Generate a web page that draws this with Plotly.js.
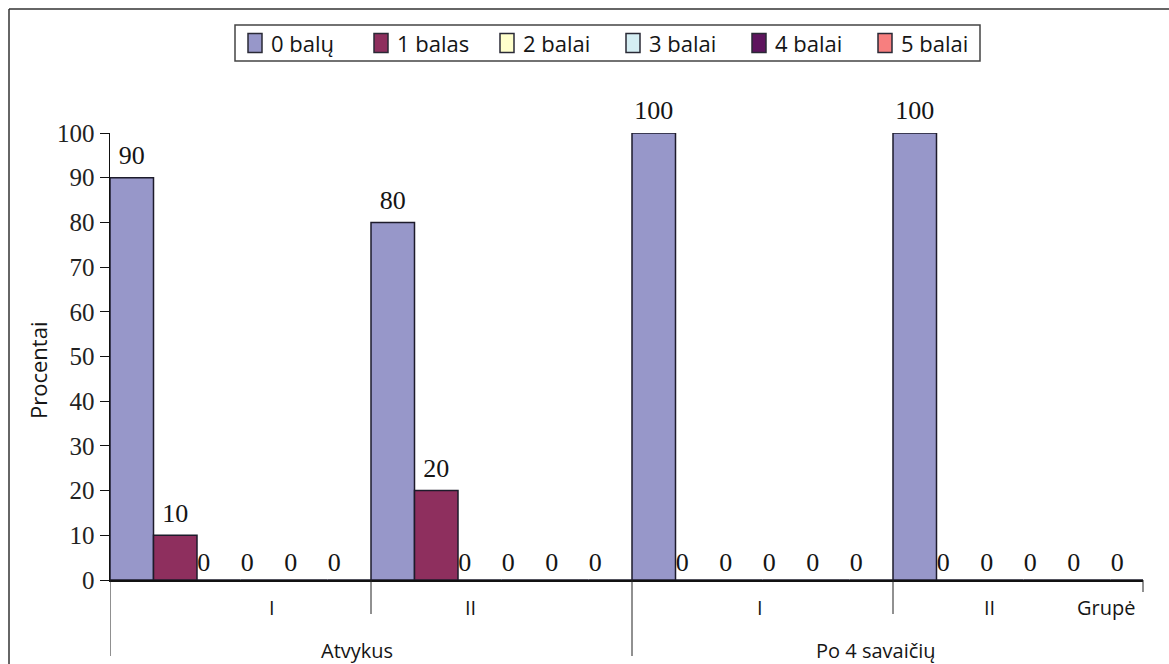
<!DOCTYPE html>
<html>
<head>
<meta charset="utf-8">
<script src="https://cdn.plot.ly/plotly-3.0.1.min.js"></script>
<style>html,body{margin:0;padding:0;background:#fff;}</style>
</head>
<body>
<div id="chart" style="width:1169px;height:664px;"></div>
<script>
// Stages and patient groups along the category axis
const stages = ['Atvykus', 'Po 4 savaičių'];
const stageOfGroup = [0, 0, 1, 1];
const groups = ['I', 'II', 'I', 'II'];
const axisName = 'Grupė';
const yTitle = 'Procentai';

// Share of patients (%) per score
const seriesNames = ['0 balų', '1 balas', '2 balai', '3 balai', '4 balai', '5 balai'];
const bal0 = [90, 80, 100, 100];
const bal1 = [10, 20, 0, 0];
const bal2 = [0, 0, 0, 0];
const bal3 = [0, 0, 0, 0];
const bal4 = [0, 0, 0, 0];
const bal5 = [0, 0, 0, 0];
const yTicks = [0, 10, 20, 30, 40, 50, 60, 70, 80, 90, 100];

const seriesValues = [bal0, bal1, bal2, bal3, bal4, bal5];
const colors = ['#9797C9', '#8E2F5E', '#FFFFCC', '#D5EEF3', '#5E145E', '#F77F7F'];

// Figure geometry
const W = 1169, H = 664;
const M = {l: 110, r: 26, t: 133, b: 84};
const plotW = W - M.l - M.r, plotH = H - M.t - M.b;
const groupPx = 261;
const xMin = -0.5, xMax = xMin + plotW / groupPx;
const px2x = px => (px - M.l) / plotW;          // pixel -> paper x
const py2y = py => (H - M.b - py) / plotH;      // pixel -> paper y

const nSeries = seriesValues.length;
const groupIdx = groups.map((_, i) => i);
const slot = k => (k - (nSeries - 1) / 2) / nSeries;   // bar centre offset within a group
const zeroShift = -15 / groupPx;                        // zero labels sit a little left

const serif = 'Liberation Serif, Times New Roman, serif';
const sansFont = 'Open Sans, Noto Sans, sans-serif';
const ink = '#151515';

const barTraces = seriesValues.map((vals, k) => ({
  type: 'bar',
  name: seriesNames[k],
  x: groupIdx,
  y: vals,
  marker: {color: colors[k], line: {color: '#1d1b2b', width: 1.5}},
  showlegend: false,
  hoverinfo: 'none'
}));

// value labels above each bar (an invisible marker sets the gap to the bar top)
const labelTraces = seriesValues.map((vals, k) => ({
  type: 'scatter',
  mode: 'markers+text',
  x: groupIdx.map((g, i) => g + slot(k) + (vals[i] === 0 ? zeroShift : 0)),
  y: vals,
  text: vals.map(v => String(v)),
  textposition: 'top center',
  textfont: {family: serif, size: 26, color: ink},
  marker: {size: vals.map(v => (v === 0 ? 3 : 10)), opacity: 0},
  cliponaxis: false,
  showlegend: false,
  hoverinfo: 'none'
}));

const labelShift = [0.12, -0.12, -0.01, -0.13];
const stageShift = [0.446, 0.435];
const labelFont = {family: sansFont, size: 20, color: ink};

const annotations = [];
groups.forEach((g, i) => {
  annotations.push({
    xref: 'x', yref: 'paper', x: i + labelShift[i], y: py2y(607),
    text: g, showarrow: false, xanchor: 'center', yanchor: 'middle', font: labelFont
  });
});
stages.forEach((s, j) => {
  const first = stageOfGroup.indexOf(j);
  annotations.push({
    xref: 'x', yref: 'paper', x: first + stageShift[j], y: py2y(650),
    text: s, showarrow: false, xanchor: 'center', yanchor: 'middle', font: labelFont
  });
});
annotations.push({
  xref: 'paper', yref: 'paper', x: px2x(1137), y: py2y(607),
  text: axisName, showarrow: false, xanchor: 'right', yanchor: 'middle', font: labelFont
});
annotations.push({
  xref: 'paper', yref: 'paper', x: px2x(38), y: py2y(371),
  text: yTitle, textangle: -90, showarrow: false, xanchor: 'center', yanchor: 'middle',
  font: {family: sansFont, size: 22, color: ink}
});

const lineStyle = {color: '#222', width: 1};
const shapes = [];
// dividers between groups and stages below the axis
groupIdx.forEach(i => {
  const isStageStart = i === 0 || stageOfGroup[i] !== stageOfGroup[i - 1];
  shapes.push({
    type: 'line', xref: 'x', yref: 'paper',
    x0: i - 0.5, x1: i - 0.5, y0: 0, y1: py2y(isStageStart ? 656 : 614),
    line: lineStyle
  });
});
// closing tick at the end of the axis
shapes.push({type: 'line', xref: 'paper', yref: 'paper', x0: 1, x1: 1, y0: 0, y1: py2y(592), line: lineStyle});
// frame around the figure
shapes.push({type: 'line', xref: 'paper', yref: 'paper', x0: px2x(9), x1: px2x(9), y0: py2y(9), y1: py2y(H), line: {color: '#333', width: 1.5}});
shapes.push({type: 'line', xref: 'paper', yref: 'paper', x0: px2x(9), x1: px2x(W), y0: py2y(9), y1: py2y(9), line: {color: '#333', width: 1.5}});

// legend: bordered box with a swatch and a name per series
const legBox = {x0: 235, x1: 980, y0: 25, y1: 61};
const legFirst = 248, legPitch = 126, swW = 14, swH = 19, legTextGap = 21;
const legMid = (legBox.y0 + legBox.y1) / 2;
shapes.push({
  type: 'rect', xref: 'paper', yref: 'paper',
  x0: px2x(legBox.x0), x1: px2x(legBox.x1), y0: py2y(legBox.y0), y1: py2y(legBox.y1),
  line: {color: '#444', width: 1.5}, fillcolor: '#fff'
});
seriesNames.forEach((name, k) => {
  const left = legFirst + k * legPitch;
  shapes.push({
    type: 'rect', xref: 'paper', yref: 'paper',
    x0: px2x(left), x1: px2x(left + swW), y0: py2y(legMid - swH / 2), y1: py2y(legMid + swH / 2),
    line: {color: '#2a2a36', width: 1.5}, fillcolor: colors[k]
  });
  annotations.push({
    xref: 'paper', yref: 'paper', x: px2x(left + legTextGap), y: py2y(legMid),
    text: name, showarrow: false, xanchor: 'left', yanchor: 'middle',
    font: {family: sansFont, size: 22, color: ink}
  });
});

const layout = {
  width: W, height: H,
  margin: M,
  paper_bgcolor: '#fff', plot_bgcolor: '#fff',
  barmode: 'group', bargap: 0, bargroupgap: 0,
  showlegend: false,
  xaxis: {
    range: [xMin, xMax], showticklabels: false, ticks: '', showgrid: false,
    zeroline: false, showline: true, linecolor: '#111', linewidth: 1.5, fixedrange: true
  },
  yaxis: {
    range: [0, 100], tickvals: yTicks, ticks: 'outside', ticklen: 9, tickwidth: 1,
    tickcolor: '#111', showline: true, linecolor: '#111', linewidth: 1.5,
    showgrid: false, zeroline: false, fixedrange: true,
    tickfont: {family: serif, size: 25, color: '#222'}
  },
  annotations: annotations,
  shapes: shapes
};

Plotly.newPlot('chart', barTraces.concat(labelTraces), layout, {displayModeBar: false, staticPlot: true});
</script>
</body>
</html>
